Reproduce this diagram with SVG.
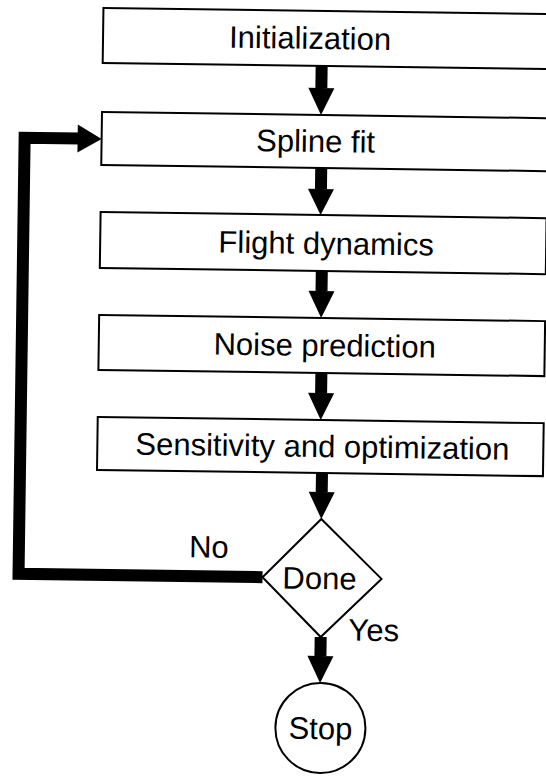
<svg xmlns="http://www.w3.org/2000/svg" width="546" height="776" viewBox="0 0 546 776">
<defs>
<style>
.box{fill:#fff;stroke:#000;stroke-width:2}
.lbl{font-family:"Liberation Sans",Arial,Helvetica,sans-serif;font-size:31px;fill:#000;text-anchor:middle}
.wire{fill:none;stroke:#000;stroke-width:12}
.head{fill:#000}
</style>
</defs>
<rect width="546" height="776" fill="#fff"/>
<g transform="rotate(0.8 320 400)">
<g id="connectors">
<path class="wire" d="M317 66V88"/><path class="head" d="M304 88H330L317 115Z"/>
<path class="wire" d="M318 168V189"/><path class="head" d="M305 189H331L318 215Z"/>
<path class="wire" d="M320 271V291"/><path class="head" d="M307 291H333L320 318Z"/>
<path class="wire" d="M321 373V393"/><path class="head" d="M308 393H334L321 420Z"/>
<path class="wire" d="M323 473V492"/><path class="head" d="M310 492H336L323 519Z"/>
<path class="wire" d="M324 637V656"/><path class="head" d="M311 656H337L324 683Z"/>
<path class="wire" d="M265 578H21V142H76"/><path class="head" d="M74 128V156L98 142Z"/>
</g>
<g id="init"><rect class="box" x="98" y="11" width="446" height="55"/><text class="lbl" x="305" y="49">Initialization</text></g>
<g id="spline"><rect class="box" x="98" y="115" width="446" height="53"/><text class="lbl" x="312" y="152">Spline fit</text></g>
<g id="flight"><rect class="box" x="98" y="215" width="446" height="56"/><text class="lbl" x="324" y="254">Flight dynamics</text></g>
<g id="noise"><rect class="box" x="98" y="318" width="446" height="55"/><text class="lbl" x="324" y="356">Noise prediction</text></g>
<g id="sens"><rect class="box" x="98" y="420" width="446" height="53"/><text class="lbl" x="323" y="457">Sensitivity and optimization</text></g>
<g id="done"><path class="box" d="M323 519L384 578L324 637L265 578Z"/><text class="lbl" x="322" y="589">Done</text></g>
<g id="stop"><circle class="box" cx="325" cy="728" r="45"/><text class="lbl" x="325" y="739">Stop</text></g>
<text class="lbl" x="211" y="559">No</text>
<text class="lbl" x="377" y="640">Yes</text>
</g>
</svg>
